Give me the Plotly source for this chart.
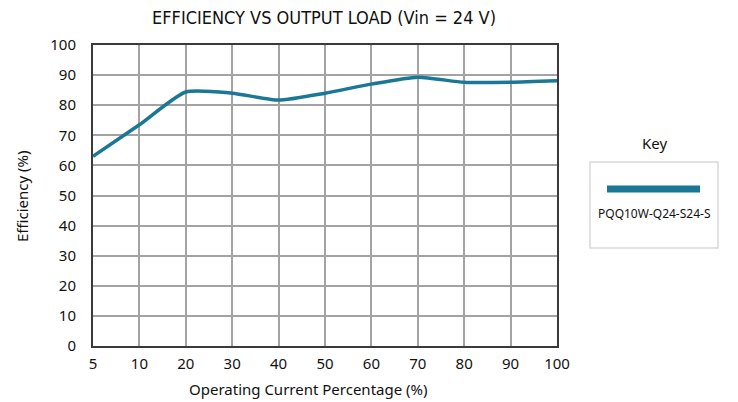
import plotly.graph_objects as go

load_pct = ["5", "10", "20", "30", "40", "50", "60", "70", "80", "90", "100"]
efficiency = [63.0, 73.5, 84.4, 84.0, 81.7, 84.0, 87.0, 89.3, 87.6, 87.6, 88.1]
series_name = "PQQ10W-Q24-S24-S"
y_ticks = [0, 10, 20, 30, 40, 50, 60, 70, 80, 90, 100]

LINE_COLOR = "#1a7896"
TEXT_COLOR = "#111111"
FONT = "Noto Sans, Open Sans, sans-serif"

# page body has an 8px margin: figure coordinates = screen coordinates - 8
OFF = 8
W, H = 738 - OFF, 402 - OFF
PL, PR, PT, PB = 93 - OFF, 557 - OFF, 45 - OFF, 346 - OFF
PW, PH = PR - PL, PB - PT


def px(sx):
    return (sx - OFF - PL) / PW


def py(sy):
    return (PB - (sy - OFF)) / PH


fig = go.Figure()
fig.add_trace(go.Scatter(
    x=load_pct, y=efficiency, mode="lines", name=series_name,
    line=dict(color=LINE_COLOR, width=3.5, shape="spline", smoothing=0.6),
    showlegend=False,
))

fig.update_layout(
    width=W, height=H,
    margin=dict(l=PL, r=W - PR, t=PT, b=H - PB, autoexpand=False),
    paper_bgcolor="white", plot_bgcolor="white",
    font=dict(family=FONT, color=TEXT_COLOR, size=14),
    title=dict(text="EFFICIENCY VS OUTPUT LOAD (Vin = 24 V)",
               font=dict(family="DejaVu Sans Condensed, Liberation Sans Narrow, sans-serif", size=18, color=TEXT_COLOR),
               x=(324 - OFF) / W, xanchor="center", y=1 - (18 - OFF) / H, yanchor="middle"),
    xaxis=dict(type="category", range=[0, len(load_pct) - 1], automargin=False,
               showgrid=True, gridcolor="#a3a3a3", gridwidth=1.5,
               showline=True, linecolor="#3a3a3a", linewidth=2, mirror=True,
               ticks="", tickfont=dict(size=15), ticklabelstandoff=3,
               zeroline=False),
    yaxis=dict(range=[0, 100], tickvals=y_ticks, automargin=False,
               showgrid=True, gridcolor="#a3a3a3", gridwidth=1.5,
               showline=True, linecolor="#3a3a3a", linewidth=2, mirror=True,
               ticks="", tickfont=dict(size=15), ticklabelstandoff=12,
               zeroline=False),
    annotations=[
        dict(text="Efficiency (%)", xref="paper", yref="paper",
             x=px(22), y=py(196), xanchor="center", yanchor="middle",
             textangle=-90, showarrow=False, font=dict(size=15)),
        dict(text="Operating Current Percentage (%)", xref="paper", yref="paper",
             x=px(308), y=py(389), xanchor="center", yanchor="middle",
             showarrow=False, font=dict(size=15)),
        dict(text="Key", xref="paper", yref="paper",
             x=px(654), y=py(143), xanchor="center", yanchor="middle",
             showarrow=False, font=dict(size=15)),
        dict(text=series_name, xref="paper", yref="paper",
             x=px(654), y=py(213), xanchor="center", yanchor="middle",
             showarrow=False, font=dict(size=12)),
    ],
    shapes=[
        dict(type="rect", xref="paper", yref="paper",
             x0=px(590), x1=px(718), y0=py(248), y1=py(162),
             line=dict(color="#d9d9d9", width=1.5), fillcolor="white", layer="below"),
        dict(type="line", xref="paper", yref="paper",
             x0=px(607), x1=px(700), y0=py(189), y1=py(189),
             line=dict(color=LINE_COLOR, width=7)),
    ],
)

fig.write_html("out.html")
